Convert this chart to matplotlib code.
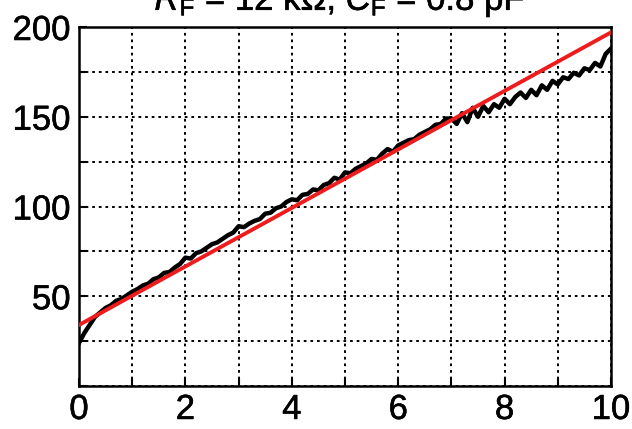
import numpy as np
import matplotlib.pyplot as plt
import matplotlib.patheffects as pe

plt.rcParams['font.family'] = ['Liberation Sans', 'DejaVu Sans']
plt.rcParams['mathtext.fontset'] = 'custom'
plt.rcParams['mathtext.rm'] = 'Liberation Sans'
plt.rcParams['mathtext.it'] = 'Liberation Sans:italic'

# measured trace, sampled every 0.1
t = np.round(np.arange(0, 10.01, 0.1), 1)
signal = [
    24, 29.5, 34, 38.5, 41, 43.5, 45, 47.5, 48.5, 50.5,
    52.5, 54, 56, 57, 59.5, 60.5, 63, 63.5, 66, 68,
    71.5, 71, 74, 75, 77, 79, 80, 82, 84, 85.5,
    89, 88.5, 90.5, 92, 93, 96, 96.5, 99, 100, 102.5,
    104, 103.5, 106.5, 107, 109.5, 109, 112, 113, 116, 115,
    119, 118.5, 121, 122.5, 124, 126.5, 126, 129.5, 132, 130.5,
    134, 135.5, 137, 137.5, 140, 141.5, 143, 145.5, 146, 149,
    149, 146, 152, 147, 155, 150, 156, 152.5, 157, 155,
    160, 157, 161, 163.5, 160.5, 165, 162, 167.5, 165, 170,
    168, 172, 171, 174.5, 173, 177, 176, 180, 178, 185,
    188,
]

# linear fit endpoints
fit_x = [0, 10]
fit_y = [34, 197]

xticks = [0, 2, 4, 6, 8, 10]
yticks = [50, 100, 150, 200]

fig = plt.figure(figsize=(6.32, 4.29), dpi=100)
ax = fig.add_axes([79/632, 43/429, 532/632, 359/429])

ax.plot(t, signal, color='black', lw=3.2, zorder=3)
ax.plot(fit_x, fit_y, color='#ee1c1c', lw=2.8, zorder=4)

ax.set_xlim(0, 10)
ax.set_ylim(0, 200)
ax.set_xticks(xticks)
ax.set_yticks(yticks)
ax.set_xticks(np.arange(0, 11, 1), minor=True)
ax.set_yticks(np.arange(0, 201, 25), minor=True)
ax.grid(which='both', color='black', ls=(0, (1.4, 2.0)), lw=1.4)
ax.tick_params(which='both', direction='in', length=6, width=1.5, labelsize=25)
ax.tick_params(axis='x', pad=5)
ax.tick_params(axis='y', pad=6)
for s in ax.spines.values():
    s.set_linewidth(1.8)

thick = [pe.withStroke(linewidth=0.4, foreground='black')]
for lab in ax.get_xticklabels() + ax.get_yticklabels():
    lab.set_path_effects(thick)

fig.text(340/632, 1 - 10/429, r'$R_{\mathrm{F}}$ = 12 k$\Omega$, $C_{\mathrm{F}}$ = 0.8 pF',
         fontsize=25, ha='center', va='baseline', path_effects=thick)

fig.savefig('out.png', dpi=100)
